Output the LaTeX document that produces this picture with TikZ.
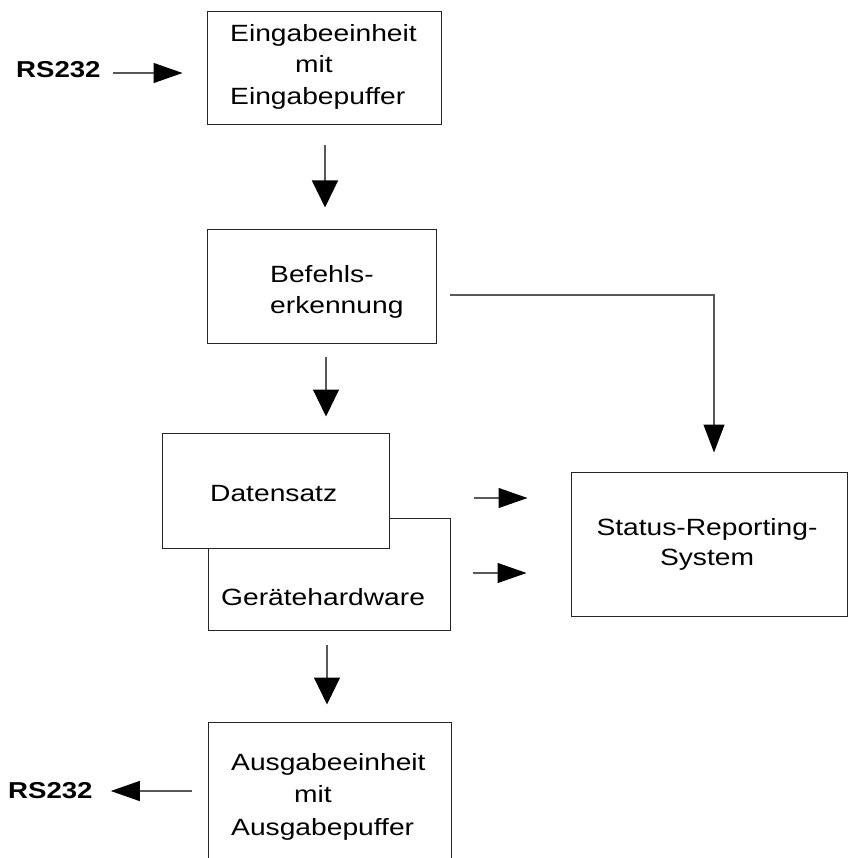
\documentclass[tikz,border=0pt]{standalone}
\usepackage{fontspec}
\setmainfont{Liberation Sans}[FakeStretch=1.2]
\usetikzlibrary{arrows.meta}
\begin{document}
\begin{tikzpicture}[x=1pt,y=-1pt,
  box/.style={draw=black!85,line width=1pt,rectangle,inner sep=0pt,fill=white},
  txt/.style={inner sep=0pt,font=\fontsize{23.5}{28}\selectfont},
  io/.style={inner sep=0pt,anchor=base west,font=\fontsize{23}{28}\selectfont\bfseries},
  conn/.style={draw=black!65,line width=1.1pt},
  darr/.style={conn,-{Triangle[length=27pt,width=26pt,color=black]}},
  sarr/.style={conn,-{Triangle[length=28pt,width=21pt,color=black]}},
  harr/.style={conn,-{Triangle[length=29pt,width=20pt,color=black]}}]
\clip (0,0) rectangle (848,858);
\fill[white] (0,0) rectangle (848,858);

% boxes
\node[box,minimum width=234pt,minimum height=113pt] (in)  at (324,68.5) {};
\node[box,minimum width=229pt,minimum height=113pt] (cmd) at (321.5,286.5) {};
\node[box,minimum width=242pt,minimum height=112pt] (hw)  at (329,574) {};
\node[box,minimum width=227pt,minimum height=115pt] (ds)  at (275.5,490.5) {};
\node[box,minimum width=276pt,minimum height=144pt] (st)  at (709,544) {};
\node[box,minimum width=243pt,minimum height=158pt] (out) at (329.5,801) {};

% box texts
\node[txt,anchor=base west] (in1) at (230,42)  {Eingabeeinheit};
\node[txt,anchor=base west] (in2) at (295,73)  {mit};
\node[txt,anchor=base west] (in3) at (230,105) {Eingabepuffer};
\node[txt,anchor=base west] (cmd1) at (270,283) {Befehls-};
\node[txt,anchor=base west] (cmd2) at (270,313) {erkennung};
\node[txt,anchor=base west] (ds1) at (210,501) {Datensatz};
\node[txt,anchor=base west] (hw1) at (221,605) {Gerätehardware};
\node[txt,anchor=base] (st1) at (707,535) {Status-Reporting-};
\node[txt,anchor=base] (st2) at (707,565) {System};
\node[txt,anchor=base west] (out1) at (231,770) {Ausgabeeinheit};
\node[txt,anchor=base west] (out2) at (294,802) {mit};
\node[txt,anchor=base west] (out3) at (231,835) {Ausgabepuffer};

% serial interface labels
\node[io] (rsin)  at (16,78)  {RS232};
\node[io] (rsout) at (8,798)  {RS232};

% connectors
\draw[harr,shorten <=12pt,shorten >=24pt] (rsin.east |- 0,73) -- (in.west |- 0,73);
\draw[darr,shorten <=20pt,shorten >=22pt] (in.south -| 325,0) -- (cmd.north -| 325,0);
\draw[darr,shorten <=13pt,shorten >=16pt] (cmd.south -| 326,0) -- (ds.north -| 326,0);
\draw[sarr,shorten <=13pt,shorten >=19pt] (cmd.east |- 0,295) -| (st.north -| 714,0);
\draw[harr,shorten <=84pt,shorten >=43pt] (ds.east |- 0,498) -- (st.west |- 0,498);
\draw[harr,shorten <=22pt,shorten >=44pt] (hw.east |- 0,573) -- (st.west |- 0,573);
\draw[darr,shorten <=14pt,shorten >=17pt] (hw.south -| 327,0) -- (out.north -| 327,0);
\draw[harr,shorten <=16pt,shorten >=18pt] (out.west |- 0,791) -- (rsout.east |- 0,791);
\end{tikzpicture}
\end{document}
